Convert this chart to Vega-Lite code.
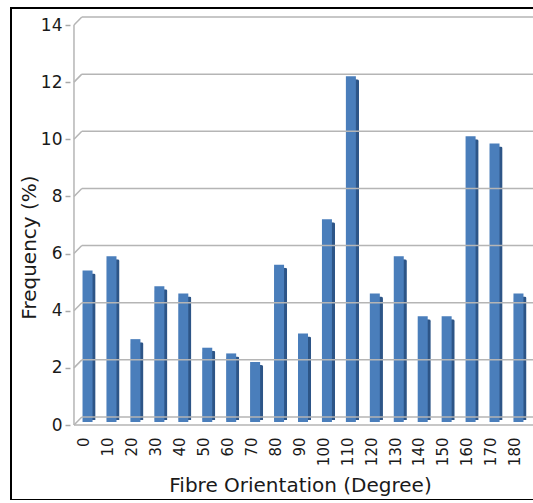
{
  "$schema": "https://vega.github.io/schema/vega-lite/v6.json",
  "autosize": {"type": "none"},
  "padding": {"left": 11, "top": 8, "right": 0, "bottom": 0},
  "width": 578,
  "height": 492,
  "background": "white",
  "config": {
    "font": "DejaVu Sans",
    "view": {"stroke": "#000000", "strokeWidth": 2}
  },
  "datasets": {
    "bars": [
      {"angle": 0, "freq": 5.3},
      {"angle": 10, "freq": 5.8},
      {"angle": 20, "freq": 2.9},
      {"angle": 30, "freq": 4.75},
      {"angle": 40, "freq": 4.5},
      {"angle": 50, "freq": 2.6},
      {"angle": 60, "freq": 2.4},
      {"angle": 70, "freq": 2.1},
      {"angle": 80, "freq": 5.5},
      {"angle": 90, "freq": 3.1},
      {"angle": 100, "freq": 7.1},
      {"angle": 110, "freq": 12.1},
      {"angle": 120, "freq": 4.5},
      {"angle": 130, "freq": 5.8},
      {"angle": 140, "freq": 3.7},
      {"angle": 150, "freq": 3.7},
      {"angle": 160, "freq": 10.0},
      {"angle": 170, "freq": 9.75},
      {"angle": 180, "freq": 4.5}
    ],
    "grid": [
      {"v": 0}, {"v": 2}, {"v": 4}, {"v": 6}, {"v": 8}, {"v": 10}, {"v": 12}, {"v": 14}
    ]
  },
  "layer": [
    {
      "data": {"name": "bars"},
      "mark": {"type": "bar", "color": "#2d5587", "size": 13, "xOffset": 5.4, "yOffset": -5, "y2Offset": -2, "cornerRadiusTopRight": 2, "cornerRadiusTopLeft": 2},
      "encoding": {
        "x": {"field": "angle", "type": "quantitative",
              "scale": {"domain": [-28.32, 208.94], "nice": false, "zero": false},
              "axis": {
                "values": [0, 10, 20, 30, 40, 50, 60, 70, 80, 90, 100, 110, 120, 130, 140, 150, 160, 170, 180],
                "tickCount": 40,
                "offset": -75,
                "domain": false,
                "grid": false,
                "ticks": false,
                "labelAngle": -90,
                "labelAlign": "right",
                "labelBaseline": "middle",
                "labelPadding": 12,
                "labelFontSize": 15,
                "labelColor": "#1a1a1a",
                "labelFlush": false,
                "labelOverlap": false,
                "labelBound": false,
                "title": "Fibre Orientation (Degree)",
                "titleFontSize": 20,
                "titleFontWeight": "normal",
                "titleColor": "#1a1a1a",
                "titlePadding": 10
              }},
        "y": {"field": "freq", "type": "quantitative",
              "scale": {"domain": [-2.625, 14.595], "nice": false, "zero": false},
              "axis": {
                "values": [0, 2, 4, 6, 8, 10, 12, 14],
                "tickCount": 20,
                "offset": -59,
                "domain": false,
                "grid": false,
                "ticks": true,
                "tickSize": 5,
                "tickWidth": 1.5,
                "tickColor": "#a8a8a8",
                "labelPadding": 3,
                "labelFontSize": 17,
                "labelColor": "#1a1a1a",
                "labelFlush": false,
                "labelOverlap": false,
                "labelBound": false,
                "title": "Frequency (%)",
                "titleFontSize": 20,
                "titleFontWeight": "normal",
                "titleColor": "#1a1a1a",
                "titlePadding": 1,
                "titleY": 239
              }}
      }
    },
    {
      "data": {"name": "bars"},
      "mark": {"type": "bar", "color": "#4a7ebb", "size": 10, "xOffset": 3.75, "yOffset": -3, "y2Offset": -2},
      "encoding": {
        "x": {"field": "angle", "type": "quantitative"},
        "y": {"field": "freq", "type": "quantitative"}
      }
    },
    {
      "data": {"name": "grid"},
      "mark": {"type": "rule", "color": "#b5b5b5", "strokeWidth": 1.5, "yOffset": -8},
      "encoding": {
        "y": {"field": "v", "type": "quantitative"},
        "x": {"datum": -0.82, "type": "quantitative"},
        "x2": {"datum": 208}
      }
    },
    {
      "data": {"name": "grid"},
      "mark": {"type": "rule", "color": "#b5b5b5", "strokeWidth": 1.5, "y2Offset": -8},
      "encoding": {
        "x": {"datum": -4.1, "type": "quantitative"},
        "x2": {"datum": -0.82},
        "y": {"field": "v", "type": "quantitative"},
        "y2": {"field": "v"}
      }
    },
    {
      "data": {"values": [{}]},
      "mark": {"type": "rule", "color": "#b5b5b5", "strokeWidth": 1.5},
      "encoding": {
        "x": {"datum": -4.1, "type": "quantitative"},
        "x2": {"datum": 208},
        "y": {"datum": 0, "type": "quantitative"}
      }
    },
    {
      "data": {"values": [{}]},
      "mark": {"type": "rule", "color": "#b5b5b5", "strokeWidth": 1.5},
      "encoding": {
        "x": {"datum": -4.1, "type": "quantitative"},
        "y": {"datum": 0, "type": "quantitative"},
        "y2": {"datum": 14}
      }
    }
  ]
}
